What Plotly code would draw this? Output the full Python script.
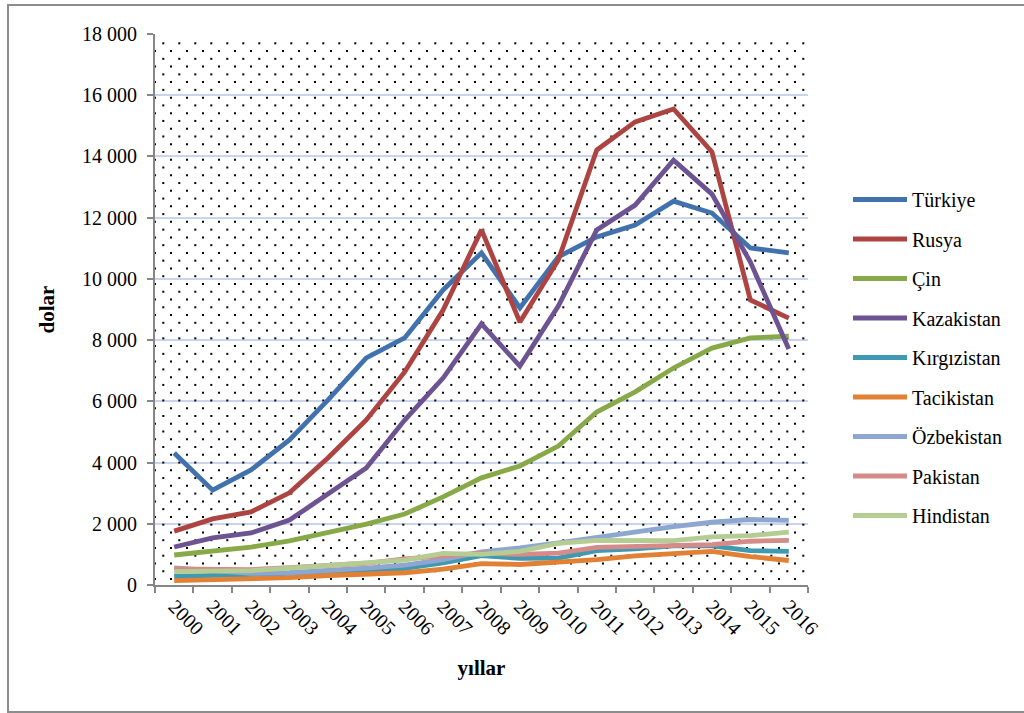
import numpy as np
import plotly.graph_objects as go

years = list(range(2000, 2017))

turkiye = [4310, 3100, 3760, 4740, 6040, 7420, 8070, 9640, 10850, 9050, 10720, 11370, 11760, 12540, 12150, 11010, 10850]
rusya = [1760, 2160, 2390, 3010, 4150, 5390, 6960, 8980, 11600, 8590, 10620, 14210, 15130, 15550, 14150, 9310, 8720]
cin = [980, 1110, 1240, 1440, 1700, 1990, 2320, 2880, 3500, 3890, 4540, 5650, 6310, 7090, 7740, 8070, 8130]
kazakistan = [1240, 1540, 1700, 2120, 2970, 3820, 5390, 6760, 8530, 7150, 9110, 11600, 12410, 13880, 12770, 10550, 7710]
kirgizistan = [280, 310, 320, 380, 430, 480, 540, 720, 960, 870, 880, 1120, 1180, 1280, 1280, 1120, 1100]
tacikistan = [140, 170, 190, 240, 310, 340, 400, 520, 700, 670, 740, 830, 950, 1040, 1100, 930, 800]
ozbekistan = [560, 460, 380, 400, 470, 550, 650, 830, 1080, 1210, 1380, 1560, 1750, 1910, 2050, 2140, 2110]
pakistan = [530, 510, 500, 570, 650, 710, 850, 940, 1040, 1000, 1040, 1230, 1260, 1270, 1320, 1430, 1460]
hindistan = [440, 450, 470, 550, 630, 720, 810, 1030, 1000, 1100, 1360, 1460, 1440, 1450, 1570, 1610, 1730]

series = [
    ("Türkiye", turkiye, "#4272ad"),
    ("Rusya", rusya, "#ad4442"),
    ("Çin", cin, "#88a947"),
    ("Kazakistan", kazakistan, "#6e5392"),
    ("Kırgızistan", kirgizistan, "#3f99b0"),
    ("Tacikistan", tacikistan, "#e28134"),
    ("Özbekistan", ozbekistan, "#8ea7d0"),
    ("Pakistan", pakistan, "#d48b8a"),
    ("Hindistan", hindistan, "#b5cd92"),
]

FONT = "Liberation Serif, Times New Roman, serif"

# plot area geometry (pixels)
L, R, T, B = 155, 808, 34, 585
W, H = 1024, 713
YMAX = 18000
x0, x1 = 1999.5, 2016.5

fig = go.Figure()

# dotted background pattern (decoration)
dx_px, dy_px = 16.0, 7.764
xs, ys = [], []
k = 0
yp = 43.3
while yp < B - 2:
    start = L + 8.3 if k % 2 == 0 else L
    xp = np.arange(start, R - 1, dx_px)
    xs.extend(x0 + (xp - L) / (R - L) * (x1 - x0))
    ys.extend([(B - yp) * YMAX / (B - T)] * len(xp))
    k += 1
    yp = 43.3 + k * dy_px
fig.add_trace(go.Scatter(x=xs, y=ys, mode="markers",
                         marker=dict(symbol="square", size=2, color="black", line=dict(width=0)),
                         hoverinfo="skip", showlegend=False))

for i, (name, vals, col) in enumerate(series):
    fig.add_trace(go.Scatter(x=years, y=vals, name=name, mode="lines",
                             legendgroup=f"g{i}",
                             line=dict(color=col, width=4.8)))

fig.update_layout(
    width=W, height=H,
    margin=dict(l=L, r=W - R, t=T, b=H - B),
    paper_bgcolor="white", plot_bgcolor="white",
    font=dict(family=FONT, size=20, color="black"),
    legend=dict(x=(848 - L) / (R - L), y=(B - 180) / (B - T), xanchor="left", yanchor="top",
                traceorder="grouped", tracegroupgap=10.5, itemwidth=54,
                font=dict(family=FONT, size=20, color="black"), bgcolor="rgba(0,0,0,0)"),
    xaxis=dict(range=[x0, x1], tickmode="array", tickvals=years, ticktext=[str(y) for y in years],
               tickangle=45, ticks="", showgrid=False, zeroline=False,
               showline=True, linecolor="#868686", linewidth=2,
               minor=dict(tick0=1999.5, dtick=1, ticks="outside", ticklen=6, tickcolor="#868686", tickwidth=2, showgrid=False),
               tickfont=dict(family=FONT, size=20),
               title=dict(text="<b>yıllar</b>", font=dict(family=FONT, size=21), standoff=22)),
    yaxis=dict(range=[0, YMAX], tickmode="array", tickvals=list(range(0, 18001, 2000)),
               ticktext=["0"] + [f"{v // 1000} 000" for v in range(2000, 18001, 2000)],
               ticks="outside", ticklen=6, tickcolor="#868686", tickwidth=2,
               showline=True, linecolor="#868686", linewidth=2,
               showgrid=True, gridcolor="#c8d5ec", gridwidth=1.5, zeroline=False,
               ticklabelstandoff=6,
               tickfont=dict(family=FONT, size=20),
               title=dict(text="<b>dolar</b>", font=dict(family=FONT, size=21), standoff=22)),
    shapes=[dict(type="rect", xref="paper", yref="paper",
                 x0=(8 - L) / (R - L), x1=(1040 - L) / (R - L),
                 y0=(B - 712) / (B - T), y1=(B - 5) / (B - T),
                 line=dict(color="#8c8c8c", width=2), fillcolor="rgba(0,0,0,0)", layer="below")],
    showlegend=True,
)

fig.write_html("out.html", config={"displayModeBar": False},
               post_script="document.body.style.margin='0';document.body.style.overflow='hidden';")
